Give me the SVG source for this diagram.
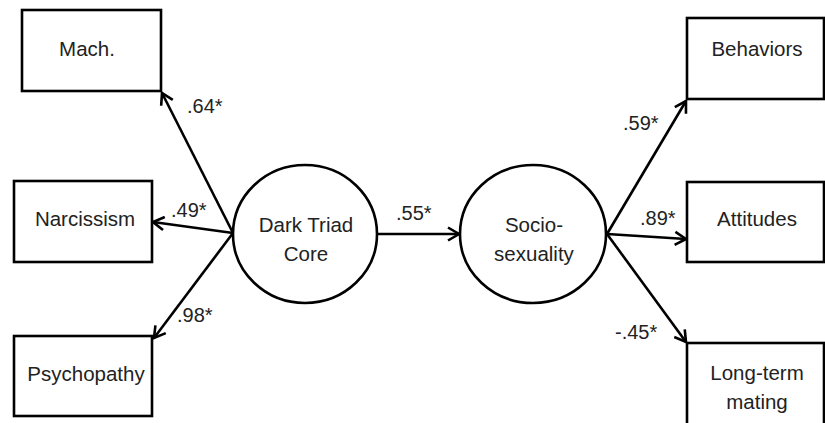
<svg xmlns="http://www.w3.org/2000/svg" width="825" height="423" viewBox="0 0 825 423">
  <style>
    .box { fill: #ffffff; stroke: #000000; stroke-width: 2.6; }
    .lat { fill: #ffffff; stroke: #000000; stroke-width: 2.6; }
    .lbl { font-family: "Liberation Sans", Arial, sans-serif; font-size: 20.5px; fill: #222222; text-anchor: middle; }
    .coef { font-family: "Liberation Sans", Arial, sans-serif; font-size: 20px; fill: #222222; }
    .edge { stroke: #000000; stroke-width: 2.6; fill: none; marker-end: url(#head); }
  </style>
  <defs>
    <marker id="head" markerUnits="userSpaceOnUse" markerWidth="16" markerHeight="16" viewBox="-13 -8 16 16" refX="0" refY="0" orient="auto">
      <path d="M-11,-6.5 L0,0 L-11,6.5" fill="none" stroke="#000000" stroke-width="2.6" stroke-linejoin="miter"/>
    </marker>
  </defs>
  <rect width="825" height="423" fill="#ffffff"/>

  <!-- paths and loadings -->
  <g id="connectors">
    <line class="edge" x1="233" y1="233" x2="162" y2="93"/>
    <line class="edge" x1="233" y1="233" x2="153" y2="222"/>
    <line class="edge" x1="233" y1="233" x2="154" y2="338"/>
    <line class="edge" x1="377" y1="234" x2="459" y2="234"/>
    <line class="edge" x1="607" y1="234" x2="686" y2="101"/>
    <line class="edge" x1="607" y1="234" x2="686" y2="239"/>
    <line class="edge" x1="607" y1="234" x2="686" y2="342"/>
    <text class="coef" x="187" y="113">.64*</text>
    <text class="coef" x="171" y="217">.49*</text>
    <text class="coef" x="177" y="322">.98*</text>
    <text class="coef" x="396" y="220">.55*</text>
    <text class="coef" x="623" y="130">.59*</text>
    <text class="coef" x="640" y="225">.89*</text>
    <text class="coef" x="615" y="339">-.45*</text>
  </g>

  <!-- indicators of the Dark Triad core -->
  <g id="mach">
    <rect class="box" x="22" y="10" width="139" height="81"/>
    <text class="lbl" x="87" y="56">Mach.</text>
  </g>
  <g id="narcissism">
    <rect class="box" x="14" y="181" width="138" height="81"/>
    <text class="lbl" x="85" y="226">Narcissism</text>
  </g>
  <g id="psychopathy">
    <rect class="box" x="14" y="336" width="138" height="80"/>
    <text class="lbl" x="86" y="381">Psychopathy</text>
  </g>

  <!-- latent factors -->
  <g id="dark-triad-core">
    <ellipse class="lat" cx="305" cy="234" rx="72" ry="69"/>
    <text class="lbl" x="306" y="232">Dark Triad</text>
    <text class="lbl" x="306" y="261">Core</text>
  </g>
  <g id="sociosexuality">
    <ellipse class="lat" cx="533" cy="234" rx="73" ry="69"/>
    <text class="lbl" x="534" y="232">Socio-</text>
    <text class="lbl" x="534" y="261">sexuality</text>
  </g>

  <!-- indicators of sociosexuality -->
  <g id="behaviors">
    <rect class="box" x="687" y="18" width="137" height="81"/>
    <text class="lbl" x="757" y="56">Behaviors</text>
  </g>
  <g id="attitudes">
    <rect class="box" x="687" y="182" width="137" height="80"/>
    <text class="lbl" x="757" y="226">Attitudes</text>
  </g>
  <g id="long-term-mating">
    <rect class="box" x="687" y="343" width="137" height="90"/>
    <text class="lbl" x="757" y="380">Long-term</text>
    <text class="lbl" x="757" y="409">mating</text>
  </g>
</svg>
